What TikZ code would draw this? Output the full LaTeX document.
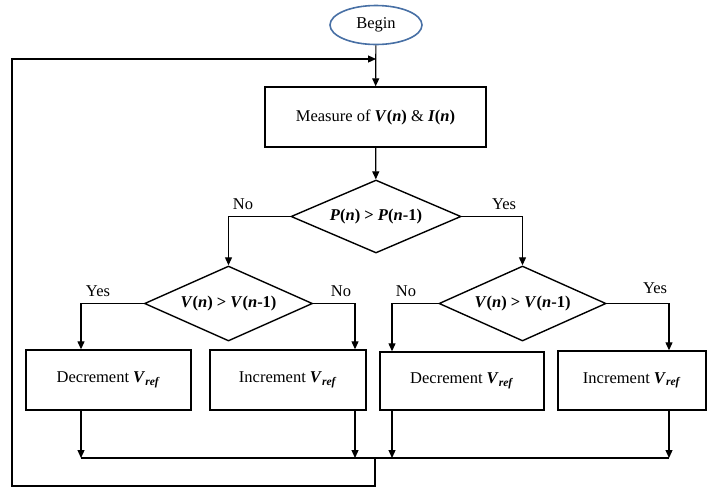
\documentclass[tikz,border=0pt]{standalone}
\usepackage{fontspec}
\setmainfont{Liberation Serif}
\usepackage{tikz}
\usetikzlibrary{shapes.geometric,arrows.meta}
\definecolor{beginBlue}{RGB}{72,112,165}
\tikzstyle{beginStyle}=[shape = ellipse, draw = beginBlue, line width = 1.6pt, minimum width = 92pt, minimum height = 39pt, inner sep = 0pt]
\tikzstyle{processStyle}=[shape = rectangle, draw, line width = 1.4pt, inner sep = 0pt]
\tikzstyle{decisionStyle}=[shape = diamond, draw, line width = 1.4pt, inner sep = 0pt]
\newcommand{\Vref}{\textbf{\textit{V}}\textsubscript{\textbf{\textit{ref}}}}
\newcommand{\zeroWidth}[1]{\makebox[0pt]{#1}}

\begin{document}
\begin{tikzpicture}[x = 1pt, y = -1pt, font = \fontsize{16.5}{18}\selectfont]
\tikzstyle{flowArrow}=[line width = 1.2pt, -{Triangle[length = 8pt, width = 7pt]}]
\tikzstyle{flowLine}=[line width = 1.2pt]
\tikzstyle{answerStyle}=[inner sep = 0pt]
\useasboundingbox (0,0) rectangle (708,488);
\node[beginStyle] (v0) at (376,25) {Begin};
\node[processStyle, minimum width = 221pt, minimum height = 60pt] (v1) at (375.5,117) {Measure of \textbf{\textit{V}(\textit{n})} \& \textbf{\textit{I}(\textit{n})}};
\node[decisionStyle, minimum width = 170pt, minimum height = 73pt] (v2) at (376,216.5) {\zeroWidth{\textbf{\textit{P}(\textit{n}) > \textit{P}(\textit{n}-1)}}};
\node[decisionStyle, minimum width = 168pt, minimum height = 75pt] (v3) at (228.5,303.5) {\zeroWidth{\textbf{\textit{V}(\textit{n}) > \textit{V}(\textit{n}-1)}}};
\node[decisionStyle, minimum width = 167pt, minimum height = 75pt] (v4) at (522.5,303.5) {\zeroWidth{\textbf{\textit{V}(\textit{n}) > \textit{V}(\textit{n}-1)}}};
\node[processStyle, minimum width = 165pt, minimum height = 60pt] (v5) at (108.5,380) {Decrement \Vref};
\node[processStyle, minimum width = 156pt, minimum height = 60pt] (v6) at (288,380) {Increment \Vref};
\node[processStyle, minimum width = 164pt, minimum height = 58pt] (v7) at (462,381) {Decrement \Vref};
\node[processStyle, minimum width = 148pt, minimum height = 59pt] (v8) at (632,380.5) {Increment \Vref};
\node[answerStyle] (a0) at (243,204) {No};
\node[answerStyle] (a1) at (504,204) {Yes};
\node[answerStyle] (a2) at (98,291) {Yes};
\node[answerStyle] (a3) at (341,291) {No};
\node[answerStyle] (a4) at (406,291) {No};
\node[answerStyle] (a5) at (655,288) {Yes};
\coordinate (j0) at (376,59);
\coordinate (m1) at (81,458);
\coordinate (m2) at (355,458);
\coordinate (m3) at (392,458);
\coordinate (m4) at (669,458);
\coordinate (m0) at (375,458);
\coordinate (c1) at (375,486);
\coordinate (c2) at (12,486);
\coordinate (c3) at (12,59);
\draw[flowArrow] (v0) -- (v1);
\draw[flowArrow] (v1) -- (v2);
\draw[flowArrow] (v2.west) -| (v3.north);
\draw[flowArrow] (v2.east) -| (v4.north);
\draw[flowArrow] (v3.west) -| ([xshift = -27.5pt]v5.north);
\draw[flowArrow] (v3.east) -| ([xshift = 67pt]v6.north);
\draw[flowArrow] (v4.west) -| ([xshift = -70pt]v7.north);
\draw[flowArrow] (v4.east) -| ([xshift = 37pt]v8.north);
\draw[flowArrow] (v5.south -| m1) -- (m1);
\draw[flowArrow] (v6.south -| m2) -- (m2);
\draw[flowArrow] (v7.south -| m3) -- (m3);
\draw[flowArrow] (v8.south -| m4) -- (m4);
\draw[flowLine] (m1) -- (m4);
\draw[flowArrow] (m0) -- (c1) -- (c2) -- (c3) -- (j0);
\end{tikzpicture}
\end{document}
